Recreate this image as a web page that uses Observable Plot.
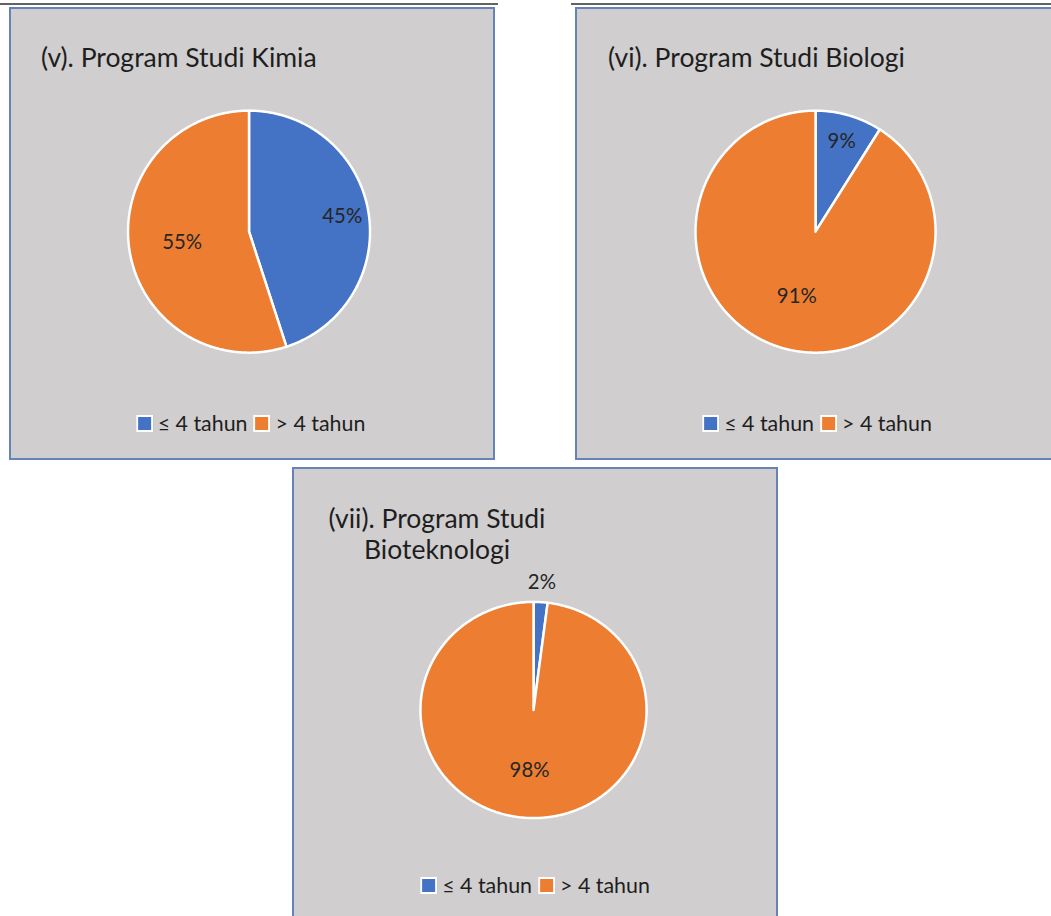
<!DOCTYPE html>
<html>
<head>
<meta charset="utf-8">
<script src="https://cdn.jsdelivr.net/npm/d3@7"></script>
<script src="https://cdn.jsdelivr.net/npm/@observablehq/plot@0.6"></script>
<style>
  html, body { margin: 0; padding: 0; background: #fff; }
  body { width: 1051px; height: 916px; overflow: hidden; position: relative; font-family: Lato, "Open Sans", "Noto Sans", sans-serif; }
  .rule { position: absolute; top: 3px; height: 2px; background: #626262; }
  .panel { position: absolute; box-sizing: border-box; background: #d0cece; border: 2px solid #6583b8; overflow: hidden; }
  .panel svg { position: absolute; left: 0; top: 0; }
  .title { position: absolute; color: #1e1e1e; font-size: 26.5px; line-height: 31px; white-space: pre; }
  .legend { position: absolute; display: flex; align-items: center; font-size: 21.4px; color: #1e1e1e; transform: translate(-50%, -50%); white-space: nowrap; }
  .legend .item { display: flex; align-items: center; margin: 0 3px; }
  .legend .sw { display: inline-block; width: 13px; height: 13px; border: 2px solid #fff; margin-right: 5px; }
</style>
</head>
<body>
<div class="rule" style="left:0;width:498px"></div>
<div class="rule" style="left:571px;width:480px"></div>
<script>
// ---- data ----
const categories = ["≤ 4 tahun", "> 4 tahun"];
const sliceColors = ["#4472c4", "#ed7d31"];
const titles = ["(v). Program Studi Kimia", "(vi). Program Studi Biologi", "(vii). Program Studi\nBioteknologi"];
const kimiaValues = [45, 55];
const biologiValues = [9, 91];
const bioteknologiValues = [2, 98];

// ---- layout (page coordinates) ----
const layouts = [
  {values: kimiaValues, title: titles[0], left: 9, top: 7, width: 486, height: 453, cx: 250.5, cy: 233, rx: 122, ry: 122, titleLeft: 30, titleTop: 33, titleAlign: "left", legendY: 423},
  {values: biologiValues, title: titles[1], left: 575, top: 7, width: 490, height: 453, cx: 817, cy: 233, rx: 121, ry: 122, titleLeft: 31, titleTop: 33, titleAlign: "left", legendY: 423},
  {values: bioteknologiValues, title: titles[2], left: 292, top: 467, width: 486, height: 470, cx: 535, cy: 711.5, rx: 114, ry: 109, titleCenter: 143, titleTop: 34, titleAlign: "center", legendY: 885}
];

const B = 2; // border width

function pieChart(L) {
  const ox = L.left + B, oy = L.top + B;
  const arcs = d3.pie().sort(null).value(d => d)(L.values);
  const total = d3.sum(L.values);
  const pts = [];
  arcs.forEach((a, i) => {
    const n = Math.max(2, Math.ceil((a.endAngle - a.startAngle) / (Math.PI / 360)));
    pts.push({key: i, cat: categories[i], x: 0, y: 0});
    for (let j = 0; j <= n; j++) {
      const t = a.startAngle + (a.endAngle - a.startAngle) * j / n;
      pts.push({key: i, cat: categories[i], x: Math.sin(t), y: Math.cos(t)});
    }
  });
  const labels = arcs.map((a, i) => {
    const f = a.value / total;
    const k = f < 0.05 ? 1.18 : (f > 0.5 ? 0.56 : 0.78);
    const m = (a.startAngle + a.endAngle) / 2;
    return {x: k * Math.sin(m), y: k * Math.cos(m), text: Math.round(f * 100) + "%"};
  });
  return Plot.plot({
    width: L.width, height: L.height,
    margin: 0,
    x: {domain: [-1, 1], range: [L.cx - ox - L.rx, L.cx - ox + L.rx], axis: null},
    y: {domain: [-1, 1], range: [L.cy - oy + L.ry, L.cy - oy - L.ry], axis: null},
    color: {domain: categories, range: sliceColors},
    style: {background: "transparent", overflow: "visible"},
    marks: [
      Plot.line(pts, {x: "x", y: "y", z: "key", fill: "cat", stroke: "white", strokeWidth: 2.5, curve: "linear-closed"}),
      Plot.text(labels, {x: "x", y: "y", text: "text", fontSize: 20.5, fill: "#262626", fontFamily: "Lato, 'Open Sans', sans-serif"})
    ]
  });
}

layouts.forEach(L => {
  const ox = L.left + B, oy = L.top + B;
  const panel = document.createElement("div");
  panel.className = "panel";
  Object.assign(panel.style, {left: L.left + "px", top: L.top + "px", width: L.width + "px", height: L.height + "px"});
  panel.appendChild(pieChart(L));

  const t = document.createElement("div");
  t.className = "title";
  t.textContent = L.title;
  t.style.top = L.titleTop + "px";
  if (L.titleAlign === "center") {
    t.style.left = L.titleCenter + "px";
    t.style.transform = "translateX(-50%)";
    t.style.textAlign = "center";
  } else {
    t.style.left = L.titleLeft + "px";
  }
  panel.appendChild(t);

  const lg = document.createElement("div");
  lg.className = "legend";
  lg.style.left = (L.cx - ox) + "px";
  lg.style.top = (L.legendY - oy) + "px";
  categories.forEach((c, i) => {
    const it = document.createElement("span");
    it.className = "item";
    const sw = document.createElement("span");
    sw.className = "sw";
    sw.style.background = sliceColors[i];
    it.appendChild(sw);
    it.appendChild(document.createTextNode(c));
    lg.appendChild(it);
  });
  panel.appendChild(lg);
  document.body.appendChild(panel);
});
</script>
</body>
</html>
